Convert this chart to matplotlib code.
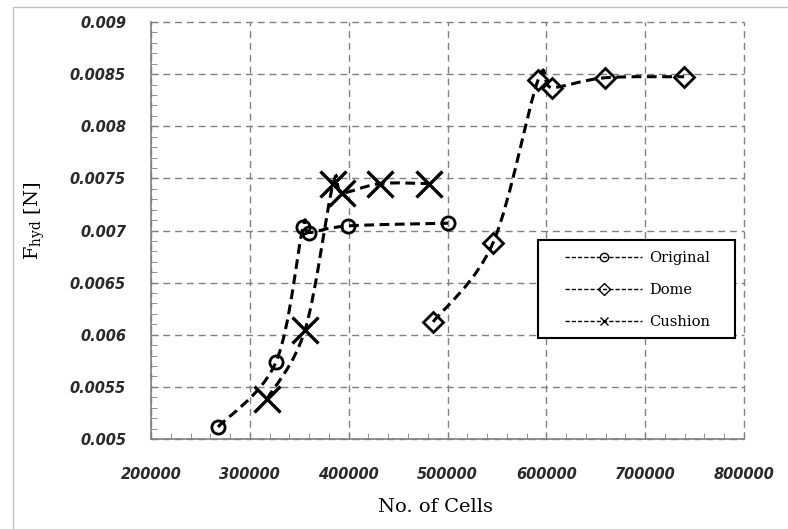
import numpy as np
import matplotlib
matplotlib.use("Agg")
import matplotlib.pyplot as plt
from matplotlib.path import Path
from matplotlib.patches import PathPatch, Rectangle
from matplotlib.lines import Line2D

plt.rcParams["mathtext.fontset"]="dejavuserif"

# data
orig_x=[267800,326500,353800,360000,399400,500600]
orig_y=[0.005115,0.00574,0.007035,0.00698,0.007044,0.00707]
dome_x=[485400,546000,591700,605900,659500,739500]
dome_y=[0.006123,0.00688,0.008445,0.00837,0.008465,0.008475]
cush_x=[317400,355900,384200,393300,431800,481400]
cush_y=[0.005384,0.006046,0.007447,0.00736,0.00745,0.00745]
names=["Original","Dome","Cushion"]
x_ticks=[200000,300000,400000,500000,600000,700000,800000]
y_ticks=[0.005,0.0055,0.006,0.0065,0.007,0.0075,0.008,0.0085,0.009]
y_tick_labels=["0.005","0.0055","0.006","0.0065","0.007","0.0075","0.008","0.0085","0.009"]

def smooth_path(xs,ys):
    # excel-like smoothed line: bezier segments through the points
    pts=np.column_stack([xs,ys]).astype(float)
    verts=[pts[0]]; codes=[Path.MOVETO]
    n=len(pts)
    for i in range(n-1):
        p0=pts[i-1] if i>0 else pts[i]
        p1=pts[i]; p2=pts[i+1]
        p3=pts[i+2] if i+2<n else pts[i+1]
        verts+=[p1+(p2-p0)/6,p2-(p3-p1)/6,p2]
        codes+=[Path.CURVE4]*3
    return Path(verts,codes)

fig=plt.figure(figsize=(7.88,5.29),dpi=100,facecolor="white")
fig.add_artist(Rectangle((13/788,-0.1),1.1,(529-7)/529+0.1,transform=fig.transFigure,fill=False,edgecolor="#c0c0c0",lw=1))
ax=fig.add_axes([151/788,1-439/529,593/788,417/529])

series=[(orig_x,orig_y,"o",9.5),(dome_x,dome_y,"D",10.5),(cush_x,cush_y,"x",19)]
for xs,ys,m,ms in series:
    ax.add_patch(PathPatch(smooth_path(xs,ys),fill=False,edgecolor="black",lw=2.2,linestyle=(0,(3.2,1.8)),zorder=3))
    ax.plot(xs,ys,ls="none",marker=m,ms=ms,mfc="none",mec="black",mew=2.0 if m!="x" else 2.4,zorder=4)

ax.set_xlim(200000,800000)
ax.set_ylim(0.005,0.009)
ax.set_xticks(x_ticks)
ax.set_xticks(np.arange(200000,800001,20000),minor=True)
ax.set_yticks(y_ticks)
ax.set_yticklabels(y_tick_labels)
ax.set_yticks(np.arange(0.005,0.00901,0.0001),minor=True)
ax.tick_params(which="both",direction="in",color="#808080")
ax.tick_params(which="major",length=5)
ax.tick_params(which="minor",length=4)
ax.tick_params(axis="y",pad=18)
ax.tick_params(axis="x",pad=20)
for lab in ax.get_xticklabels()+ax.get_yticklabels():
    lab.set_fontstyle("italic")
    lab.set_fontsize(10.5)
    lab.set_fontweight("bold")
    lab.set_color("#2a2a2a")
ax.grid(True,which="major",color="#808080",lw=1.0,linestyle=(0,(5,3.5)))
for gl in ax.xaxis.get_gridlines()+ax.yaxis.get_gridlines():
    gl.set_clip_on(False)
ax.spines[["top","right"]].set_visible(False)
ax.spines[["left","bottom"]].set_color("#808080")
ax.spines[["left","bottom"]].set_linewidth(1.2)
ax.spines[["left","bottom"]].set_zorder(2.6)

ax.text(0.48,-0.163,"No. of Cells",transform=ax.transAxes,ha="center",va="center",fontsize=14,family="DejaVu Serif")
ax.text(-0.196,0.523,r"F$_{\mathrm{hyd}}$ [N]",transform=ax.transAxes,ha="center",va="center",rotation=90,fontsize=14,family="DejaVu Serif")

# legend box drawn separately so the padding matches
ax.add_patch(Rectangle((0.6526,0.2422),0.3322,0.235,transform=ax.transAxes,facecolor="white",edgecolor="black",lw=1.5,zorder=5))
handles=[Line2D([],[],color="black",lw=1,ls=(0,(3,1.5)),marker=m,ms=6,mfc="none",mec="black",mew=1) for m in ["o","D","x"]]
leg=ax.legend(handles,names,loc="upper left",bbox_to_anchor=((565-151)/593,(439-251)/417),frameon=False,
              prop={"family":"DejaVu Serif","size":10.5},
              handlelength=5.3,labelspacing=1.25,borderpad=0,handletextpad=0.5,borderaxespad=0)
leg.set_zorder(6)

fig.savefig("out.png",dpi=100,facecolor="white")
